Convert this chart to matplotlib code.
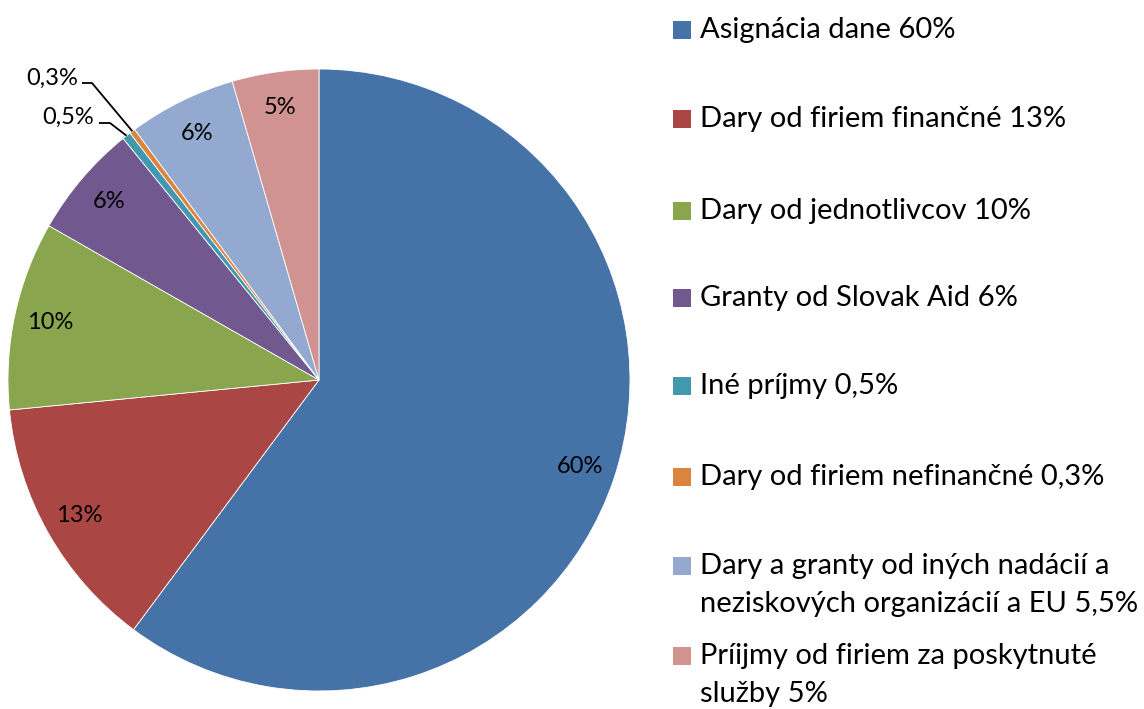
import numpy as np
import matplotlib.pyplot as plt
from matplotlib.patches import Rectangle

plt.rcParams["font.family"] = ["Lato", "DejaVu Sans"]

categories = [
    "Asignácia dane 60%",
    "Dary od firiem finančné 13%",
    "Dary od jednotlivcov 10%",
    "Granty od Slovak Aid 6%",
    "Iné príjmy 0,5%",
    "Dary od firiem nefinančné 0,3%",
    "Dary a granty od iných nadácií a\nneziskových organizácií a EU 5,5%",
    "Príijmy od firiem za poskytnuté\nslužby 5%",
]
# slice sizes
values = [60.2, 13.3, 9.8, 5.9, 0.45, 0.3, 5.6, 4.5]
pct_labels = ["60%", "13%", "10%", "6%", "0,5%", "0,3%", "6%", "5%"]
colors = ["#4572A7", "#AA4643", "#89A54E", "#71588F",
          "#4198AF", "#DB843D", "#93A9CF", "#D19392"]

W, H = 1144, 709
fig = plt.figure(figsize=(W / 100, H / 100), dpi=100)

# pie centre (319, 380) px, radius 311 px
cx, cy, r = 319, 380, 311
ax = fig.add_axes([(cx - r) / W, (H - cy - r) / H, 2 * r / W, 2 * r / H])
wedges, _ = ax.pie(values, colors=colors, startangle=90, counterclock=False,
                   radius=1, wedgeprops=dict(edgecolor="white", linewidth=0.6))
ax.set_xlim(-1, 1)
ax.set_ylim(-1, 1)
ax.set_aspect("equal")
ax.axis("off")


def px(x, y):
    return (x - cx) / r, (cy - y) / r


# outside labels for the tiny slices: (text right edge, elbow start, elbow end) in px
outside = {
    5: ((78, 78), (82, 83), (92, 83)),
    4: ((94, 117), (99, 123), (110, 123)),
}

for i, (w, lab) in enumerate(zip(wedges, pct_labels)):
    mid = np.deg2rad((w.theta1 + w.theta2) / 2)
    if i in outside:
        (tx, ty), e0, e1 = outside[i]
        ex, ey = np.cos(mid), np.sin(mid)
        p0, p1 = px(*e0), px(*e1)
        ax.plot([p0[0], p1[0], ex], [p0[1], p1[1], ey], color="black", lw=1.3,
                solid_capstyle="butt")
        x, y = px(tx, ty)
        ax.text(x, y, lab, ha="right", va="center", fontsize=17)
    else:
        d = 0.885
        ax.text(d * np.cos(mid), d * np.sin(mid), lab, ha="center", va="center",
                fontsize=17)

# legend drawn by hand to mimic spacing
entry_y = [30, 119, 211, 298, 386, 477, 566, 656]
sq = 18
line_gap = 38
for lab, col, yc in zip(categories, colors, entry_y):
    fig.patches.append(Rectangle(((673) / W, (H - yc - sq / 2) / H), sq / W, sq / H,
                                 transform=fig.transFigure, facecolor=col,
                                 edgecolor="none"))
    for k, line in enumerate(lab.split("\n")):
        fig.text(700 / W, (H - yc - k * line_gap) / H, line, ha="left",
                 va="center", fontsize=21)

fig.savefig("out.png", dpi=100)
